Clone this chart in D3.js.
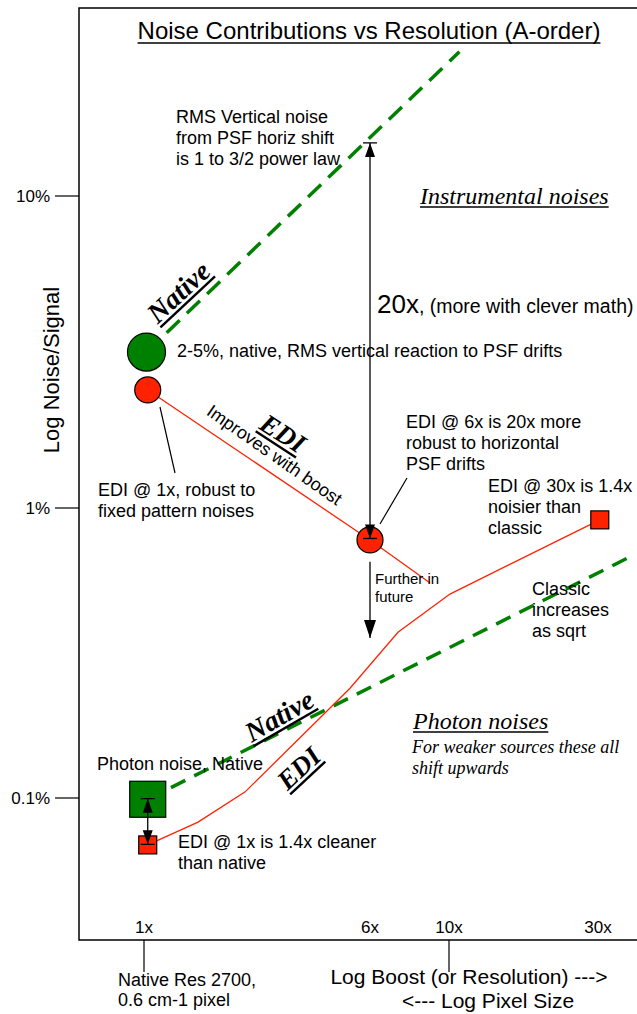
<!DOCTYPE html>
<html><head><meta charset="utf-8">
<script src="https://cdn.jsdelivr.net/npm/d3@7"></script>
<style>body{margin:0;background:#fff} svg{display:block}</style>
</head><body>
<svg id="c" width="637" height="1014"></svg>
<script>
// ---------------- DATA ----------------
const xTicks = [1, 6, 10, 30];
const xTickLabels = ["1x", "6x", "10x", "30x"];
const yTicks = [0.001, 0.01, 0.1];
const yTickLabels = ["0.1%", "1%", "10%"];

// instrumental noise (RMS vertical reaction to PSF drifts)
const nativeInstrBoost = [1.02, 10.8];
const nativeInstrNoise = [0.0316, 0.29];
const ediInstrBoost = [1.03, 6, 8.85];
const ediInstrNoise = [0.0239, 0.00776, 0.00551];

// photon noise
const nativePhotonBoost = [1.03, 37.4];
const nativePhotonNoise = [0.00099, 0.00673];
const ediPhotonBoost = [1.03, 1.535, 2.23, 5.12, 7.19, 10.07, 30.4];
const ediPhotonNoise = [0.000689, 0.000826, 0.00105, 0.00239, 0.00373, 0.00505, 0.0091];

// markers
const circleBoost = [1.02, 1.03, 6];
const circleNoise = [0.0316, 0.0239, 0.00776];
const circleKind = ["native", "edi", "edi"];
const squareBoost = [1.03, 1.03, 30.4];
const squareNoise = [0.00099, 0.000689, 0.0091];
const squareKind = ["native", "edi", "edi"];

// arrows: [boost, fromNoise, toNoise]
const arrowGain = [6, 0.00785, 0.148];
const arrowFuture = [6, 0.00652, 0.00356];
const arrowPhoton = [1.03, 0.000995, 0.000692];

// ---------------- DRAW ----------------
const GREEN = "#008000", RED = "#ff2200";
const SANS = "'Liberation Sans', Arial, Helvetica, sans-serif";
const SERIF = "'Liberation Serif', 'Times New Roman', serif";
const svg = d3.select("#c");

const x = d3.scaleLog().domain([1, 6, 10, 30]).range([144, 370, 449, 598]);
const y = d3.scaleLog().domain([0.001, 0.01, 0.1]).range([798, 508, 196]);

const L = 79, T = 8, B = 940, R = 637;
// frame
svg.append("path").attr("d", `M${R},${T}H${L}V${B}H${R}`)
  .attr("fill", "none").attr("stroke", "#000").attr("stroke-width", 1.5);

// y ticks
yTicks.forEach((v, i) => {
  svg.append("line").attr("x1", 55).attr("x2", L).attr("y1", y(v)).attr("y2", y(v))
    .attr("stroke", "#000").attr("stroke-width", 1.2);
  svg.append("text").attr("x", 50).attr("y", y(v) + 6).attr("text-anchor", "end")
    .attr("font-family", SANS).attr("font-size", 17).text(yTickLabels[i]);
});
svg.append("text").attr("transform", "translate(59,370) rotate(-90)")
  .attr("text-anchor", "middle").attr("font-family", SANS).attr("font-size", 22)
  .text("Log Noise/Signal");

// x tick labels (above axis) + selected tick marks below axis
xTicks.forEach((v, i) => {
  svg.append("text").attr("x", x(v)).attr("y", 933).attr("text-anchor", "middle")
    .attr("font-family", SANS).attr("font-size", 17).text(xTickLabels[i]);
});
[1, 10].forEach(v => {
  svg.append("line").attr("x1", x(v)).attr("x2", x(v)).attr("y1", B).attr("y2", 972)
    .attr("stroke", "#000").attr("stroke-width", 1.2);
});

const line = d3.line().x(d => x(d[0])).y(d => y(d[1]));
const zip = (a, b) => a.map((v, i) => [v, b[i]]);

// dashed native lines
svg.append("path").attr("d", line(zip(nativeInstrBoost, nativeInstrNoise)))
  .attr("fill", "none").attr("stroke", GREEN).attr("stroke-width", 3.5).attr("stroke-dasharray", "18,10");
svg.append("path").attr("d", line(zip(nativePhotonBoost, nativePhotonNoise)))
  .attr("fill", "none").attr("stroke", GREEN).attr("stroke-width", 3.5).attr("stroke-dasharray", "16,10");
// EDI lines
svg.append("path").attr("d", line(zip(ediInstrBoost, ediInstrNoise)))
  .attr("fill", "none").attr("stroke", RED).attr("stroke-width", 1.3);
svg.append("path").attr("d", line(zip(ediPhotonBoost, ediPhotonNoise)))
  .attr("fill", "none").attr("stroke", RED).attr("stroke-width", 1.3);

// markers
const cr = [19, 13, 13];
circleBoost.forEach((b, i) => {
  svg.append("circle").attr("cx", x(b)).attr("cy", y(circleNoise[i])).attr("r", cr[i])
    .attr("fill", circleKind[i] === "native" ? GREEN : RED).attr("stroke", "#000").attr("stroke-width", 1.2);
});
const ss = [36, 18, 18];
squareBoost.forEach((b, i) => {
  svg.append("rect").attr("x", x(b) - ss[i] / 2).attr("y", y(squareNoise[i]) - ss[i] / 2)
    .attr("width", ss[i]).attr("height", ss[i])
    .attr("fill", squareKind[i] === "native" ? GREEN : RED).attr("stroke", "#000").attr("stroke-width", 1.2);
});

// arrows
function arrowHead(xp, tip, dir, w, l, bar) {
  svg.append("path").attr("d", `M${xp},${tip}L${xp - w / 2},${tip - dir * l}L${xp + w / 2},${tip - dir * l}Z`)
    .attr("fill", "#000");
  if (bar) svg.append("line").attr("x1", xp - bar / 2).attr("x2", xp + bar / 2).attr("y1", tip).attr("y2", tip)
    .attr("stroke", "#000").attr("stroke-width", 1.3);
}
function vArrow(a, opts) {
  const xp = x(a[0]), y1 = y(a[1]), y2 = y(a[2]);
  svg.append("line").attr("x1", xp).attr("x2", xp).attr("y1", y1).attr("y2", y2)
    .attr("stroke", "#000").attr("stroke-width", 1.3);
  const dir = y2 > y1 ? 1 : -1;
  arrowHead(xp, y2, dir, opts.w, opts.l, opts.bar);
  if (opts.both) arrowHead(xp, y1, -dir, opts.w, opts.l, opts.bar);
}
vArrow(arrowGain, { w: 10, l: 14, bar: 14, both: true });
vArrow(arrowFuture, { w: 12, l: 18, bar: 0, both: false });
vArrow(arrowPhoton, { w: 10, l: 14, bar: 14, both: true });

// leader lines
[[160, 407, 175, 473], [407, 478, 380, 524]].forEach(s => {
  svg.append("line").attr("x1", s[0]).attr("y1", s[1]).attr("x2", s[2]).attr("y2", s[3])
    .attr("stroke", "#000").attr("stroke-width", 1.2);
});

// text helpers
function block(xp, yp, lines, size, lh, opts = {}) {
  const t = svg.append("text").attr("x", xp).attr("y", yp)
    .attr("font-family", opts.family || SANS).attr("font-size", size)
    .attr("font-style", opts.style || "normal").attr("font-weight", opts.weight || "normal")
    .attr("text-anchor", opts.anchor || "start");
  lines.forEach((s, i) => t.append("tspan").attr("x", xp).attr("dy", i === 0 ? 0 : lh).text(s));
  return t;
}
function underlined(xp, yp, str, size, opts = {}) {
  const g = svg.append("g").attr("transform", `translate(${xp},${yp}) rotate(${opts.rot || 0})`);
  const t = g.append("text").attr("x", 0).attr("y", 0)
    .attr("font-family", opts.family || SANS).attr("font-size", size)
    .attr("font-style", opts.style || "normal").attr("font-weight", opts.weight || "normal")
    .attr("text-anchor", opts.anchor || "start").text(str);
  const w = t.node().getComputedTextLength();
  const x0 = opts.anchor === "middle" ? -w / 2 : 0;
  g.append("line").attr("x1", x0).attr("x2", x0 + w).attr("y1", opts.ul || 3).attr("y2", opts.ul || 3)
    .attr("stroke", "#000").attr("stroke-width", opts.ulw || 1.3);
}

underlined(369, 39, "Noise Contributions vs Resolution (A-order)", 24, { anchor: "middle", ul: 4 });
underlined(420, 204, "Instrumental noises", 24, { family: SERIF, style: "italic", ul: 3 });
underlined(413, 729, "Photon noises", 24, { family: SERIF, style: "italic", ul: 3 });
underlined(185, 299, "Native", 28, { family: SERIF, style: "italic", weight: "bold", anchor: "middle", rot: -43, ul: 4, ulw: 2.4 });
underlined(278, 441, "EDI", 27, { family: SERIF, style: "italic", weight: "bold", anchor: "middle", rot: 33, ul: 4, ulw: 2.4 });
underlined(284, 724, "Native", 28, { family: SERIF, style: "italic", weight: "bold", anchor: "middle", rot: -30, ul: 4, ulw: 2.4 });
underlined(305, 775, "EDI", 27, { family: SERIF, style: "italic", weight: "bold", anchor: "middle", rot: -43, ul: 4, ulw: 2.4 });

svg.append("text").attr("transform", "translate(271,460) rotate(35)").attr("text-anchor", "middle")
  .attr("font-family", SANS).attr("font-size", 18).text("Improves with boost");

block(176, 123, ["RMS Vertical noise", "from PSF horiz shift", "is 1 to 3/2 power law"], 18, 21);
block(177, 357, ["2-5%, native, RMS vertical reaction to PSF drifts"], 18, 21);
block(98, 496, ["EDI @ 1x, robust to", "fixed pattern noises"], 18, 21);
block(406, 428, ["EDI @ 6x is 20x more", "robust to horizontal", "PSF drifts"], 18, 21);
block(488, 492, ["EDI @ 30x is 1.4x", "noisier than", "classic"], 18, 21);
block(375, 584, ["Further in", "future"], 15, 18);
block(532, 595, ["Classic", "increases", "as sqrt"], 18, 21);
block(97, 770, ["Photon noise, Native"], 18, 21);
block(178, 848, ["EDI @ 1x is 1.4x cleaner", "than native"], 18, 21);
block(412, 753, ["For weaker sources these all", "shift upwards"], 18, 21, { family: SERIF, style: "italic" });

const g20 = svg.append("text").attr("x", 377).attr("y", 313).attr("font-family", SANS);
g20.append("tspan").attr("font-size", 26).text("20x");
g20.append("tspan").attr("font-size", 19.5).text(", (more with clever math)");

block(118, 986, ["Native Res 2700,", "0.6 cm-1 pixel"], 18, 20);
block(469, 984, ["Log Boost (or Resolution) --->"], 21, 24, { anchor: "middle" });
block(488, 1008, ["<--- Log Pixel Size"], 21, 24, { anchor: "middle" });
</script>
</body></html>
